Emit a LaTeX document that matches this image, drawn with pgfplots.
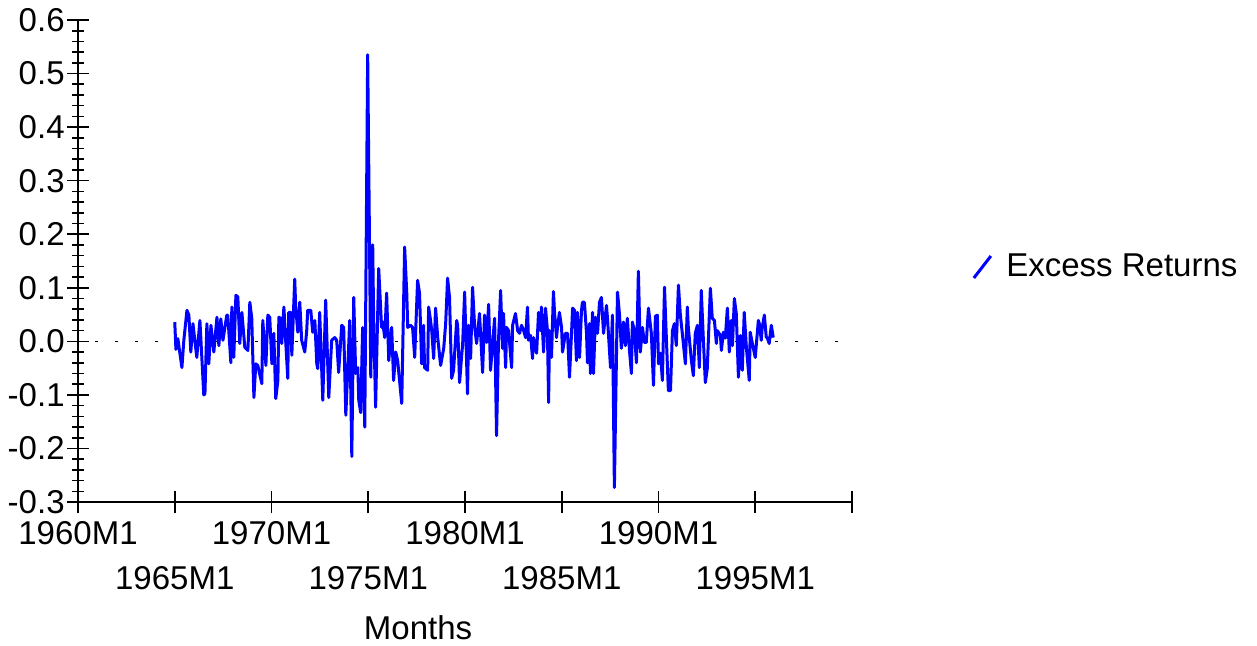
\documentclass[border=0pt]{standalone}
\usepackage{fontspec}
\setmainfont{Liberation Sans}
\usepackage{pgfplots}
\pgfplotsset{compat=1.18}
\begin{document}
\begin{tikzpicture}[font=\fontsize{16.5}{19}\selectfont]
\useasboundingbox (-39pt,-71.5pt) rectangle (589.5pt,251pt);
\begin{axis}[
  scale only axis, width=387pt, height=241pt,
  xmin=1960, xmax=2000, ymin=-0.3, ymax=0.6,
  axis lines=left, axis line style={-, line width=0.9pt, black},
  tick align=center, major tick length=11pt, minor tick length=6pt,
  every tick/.style={black, line width=0.8pt},
  xtick={1960,1970,1980,1990,2000},
  xticklabels={1960M1,1970M1,1980M1,1990M1,{}},
  extra x ticks={1965,1975,1985,1995},
  extra x tick labels={1965M1,1975M1,1985M1,1995M1},
  extra x tick style={xticklabel style={yshift=-22.5pt}},
  minor x tick num=0,
  ytick={-0.3,-0.2,-0.1,0,0.1,0.2,0.3,0.4,0.5,0.6},
  yticklabels={-0.3,-0.2,-0.1,0.0,0.1,0.2,0.3,0.4,0.5,0.6},
  minor y tick num=4,
  xticklabel style={anchor=north, inner sep=0pt, yshift=-4pt},
  yticklabel style={anchor=east, inner sep=0pt, xshift=-1pt},
  xlabel={Months},
  xlabel style={at={(axis description cs:0.4393,0)}, anchor=center, inner sep=0pt, yshift=-63pt},
  legend style={at={(1.155,0.4876)}, anchor=west, draw=none, fill=none, inner sep=0pt,
    legend cell align=left},
  legend image code/.code={\draw[#1, line width=1.5pt] (0pt,-5.5pt) -- (8.5pt,5.5pt); \path (13.5pt,0pt);},
]
\addplot[black, line width=0.5pt, dash pattern=on 1.5pt off 8.5pt, forget plot] coordinates {(1960.9,0) (1999.6,0)};
\addplot[blue, line width=1.5pt, line join=round] table {
1965.00 0.036
1965.06 -0.015
1965.16 0.005
1965.37 -0.049
1965.47 0.002
1965.63 0.058
1965.73 0.049
1965.83 -0.020
1965.94 0.033
1966.14 -0.030
1966.30 0.039
1966.50 -0.100
1966.56 -0.098
1966.66 0.033
1966.76 -0.042
1966.87 0.030
1967.02 -0.020
1967.18 0.045
1967.28 -0.008
1967.38 0.042
1967.49 0.002
1967.69 0.049
1967.74 0.049
1967.90 -0.040
1967.95 0.064
1968.05 -0.030
1968.16 0.086
1968.26 0.083
1968.36 -0.004
1968.47 0.054
1968.62 -0.011
1968.78 -0.017
1968.88 0.073
1968.98 0.043
1969.09 -0.105
1969.19 -0.042
1969.29 -0.045
1969.50 -0.079
1969.55 0.039
1969.71 -0.045
1969.81 0.049
1969.91 0.045
1970.02 -0.042
1970.12 0.015
1970.22 -0.107
1970.33 -0.073
1970.38 0.045
1970.48 0.043
1970.53 -0.004
1970.64 0.064
1970.74 -0.004
1970.84 -0.069
1970.89 0.054
1971.00 0.054
1971.05 -0.026
1971.20 0.116
1971.25 0.064
1971.36 0.017
1971.46 0.073
1971.56 0.002
1971.72 -0.020
1971.82 0.020
1971.87 0.058
1972.03 0.058
1972.13 0.017
1972.24 0.039
1972.34 -0.042
1972.39 -0.051
1972.49 0.054
1972.65 -0.110
1972.80 0.077
1972.96 -0.105
1973.11 0.002
1973.27 0.007
1973.37 0.002
1973.47 -0.058
1973.63 0.030
1973.73 0.026
1973.84 -0.138
1973.94 -0.054
1974.04 0.039
1974.15 -0.215
1974.25 0.082
1974.35 -0.060
1974.46 -0.049
1974.51 -0.110
1974.61 -0.133
1974.71 0.026
1974.82 -0.160
1974.97 0.535
1975.05 0.240
1975.13 -0.067
1975.23 0.180
1975.28 0.039
1975.38 -0.123
1975.54 0.136
1975.69 0.026
1975.75 0.036
1975.85 0.007
1975.95 0.090
1976.06 -0.036
1976.21 0.026
1976.31 -0.073
1976.42 -0.020
1976.52 -0.036
1976.73 -0.116
1976.88 0.176
1976.99 0.090
1977.04 0.026
1977.19 0.030
1977.29 0.026
1977.40 -0.030
1977.55 0.114
1977.65 0.090
1977.76 -0.042
1977.86 0.030
1977.91 -0.049
1978.07 -0.054
1978.12 0.064
1978.22 0.039
1978.28 0.020
1978.38 -0.032
1978.48 0.062
1978.59 0.007
1978.74 -0.045
1978.90 -0.013
1979.00 0.033
1979.10 0.118
1979.20 0.082
1979.31 -0.069
1979.41 -0.054
1979.57 0.039
1979.62 0.030
1979.72 -0.077
1979.82 -0.030
1979.88 -0.004
1979.98 0.092
1980.13 -0.098
1980.19 0.030
1980.29 -0.032
1980.39 0.101
1980.50 0.026
1980.60 -0.004
1980.65 0.015
1980.75 0.052
1980.91 -0.058
1981.01 0.049
1981.12 -0.002
1981.22 0.069
1981.32 -0.054
1981.48 0.020
1981.53 0.043
1981.63 -0.176
1981.73 0.000
1981.84 0.095
1981.94 -0.013
1981.99 0.052
1982.10 -0.049
1982.15 0.026
1982.25 0.020
1982.41 -0.049
1982.46 0.030
1982.61 0.052
1982.72 0.020
1982.82 0.015
1982.92 0.030
1983.03 0.020
1983.13 0.007
1983.23 0.064
1983.28 0.002
1983.39 0.011
1983.49 -0.032
1983.54 0.007
1983.70 -0.022
1983.80 0.054
1983.90 0.020
1983.95 0.064
1984.06 -0.020
1984.16 0.062
1984.26 0.020
1984.32 -0.114
1984.37 0.020
1984.47 -0.030
1984.57 0.093
1984.63 0.052
1984.73 0.007
1984.78 0.026
1984.88 0.054
1984.99 0.026
1985.04 -0.020
1985.19 0.015
1985.30 0.015
1985.40 -0.067
1985.50 0.011
1985.56 0.062
1985.66 0.058
1985.76 -0.036
1985.81 0.054
1985.92 -0.030
1986.02 0.058
1986.07 0.073
1986.17 0.073
1986.28 0.015
1986.33 -0.040
1986.43 0.033
1986.48 -0.060
1986.59 0.054
1986.64 -0.060
1986.74 0.045
1986.85 0.015
1986.95 0.073
1987.05 0.082
1987.16 0.015
1987.31 0.067
1987.36 0.045
1987.52 -0.049
1987.62 0.049
1987.72 -0.273
1987.88 0.092
1987.98 0.052
1988.08 -0.013
1988.19 0.036
1988.29 -0.008
1988.39 0.043
1988.50 -0.017
1988.60 -0.060
1988.65 0.036
1988.75 0.020
1988.86 -0.040
1988.96 0.131
1989.06 -0.020
1989.17 0.026
1989.27 -0.002
1989.37 -0.002
1989.48 0.062
1989.63 0.015
1989.74 -0.082
1989.84 0.047
1989.94 0.049
1990.00 -0.042
1990.10 -0.022
1990.20 -0.073
1990.31 0.101
1990.41 0.002
1990.51 -0.092
1990.62 -0.092
1990.72 0.020
1990.82 0.033
1990.92 -0.008
1991.03 0.105
1991.13 0.049
1991.23 0.015
1991.39 -0.042
1991.49 0.064
1991.54 0.026
1991.70 -0.036
1991.80 -0.064
1991.90 0.015
1992.01 0.030
1992.11 -0.049
1992.21 0.095
1992.32 0.002
1992.42 -0.077
1992.52 -0.051
1992.68 0.099
1992.78 0.043
1992.89 0.039
1992.99 -0.004
1993.04 0.020
1993.20 0.011
1993.25 -0.017
1993.35 0.017
1993.45 0.006
1993.56 0.062
1993.66 -0.020
1993.76 0.039
1993.82 -0.008
1993.92 0.080
1994.02 0.052
1994.13 -0.067
1994.23 0.011
1994.33 -0.054
1994.43 0.054
1994.54 -0.011
1994.69 -0.073
1994.74 0.017
1994.85 -0.004
1995.00 -0.030
1995.16 0.039
1995.21 0.033
1995.31 0.002
1995.36 0.026
1995.47 0.049
1995.57 0.007
1995.62 0.007
1995.72 -0.004
1995.83 0.030
1995.93 0.007
};
\addlegendentry{Excess Returns}
\end{axis}
\end{tikzpicture}
\end{document}
